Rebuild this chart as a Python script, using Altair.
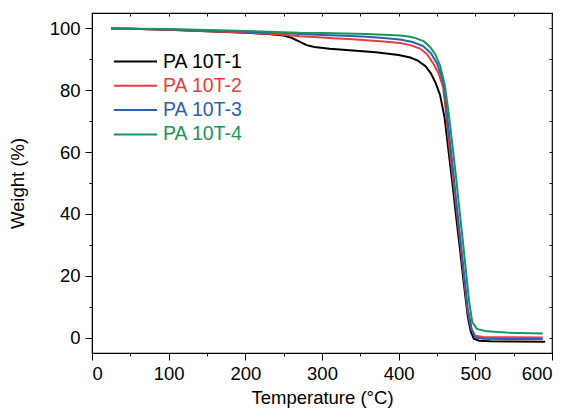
import altair as alt
import pandas as pd

series_names = ["PA 10T-1", "PA 10T-2", "PA 10T-3", "PA 10T-4"]
series_colors = ["#000000", "#ec3a3e", "#2d5fb2", "#17965a"]

t1 = [25, 50, 100, 150, 200, 230, 250, 260, 270, 280, 290, 310, 340, 370, 400, 415, 425, 435, 442, 448, 454, 460, 465, 470, 475, 480, 485, 490, 494, 498, 505, 520, 550, 591]
w1 = [100, 99.9, 99.6, 99.1, 98.6, 98.2, 97.7, 97.0, 95.8, 94.6, 94.0, 93.4, 92.9, 92.3, 91.4, 90.6, 89.6, 87.8, 85.5, 82.5, 78.5, 71.0, 60.5, 50.0, 39.0, 28.5, 17.5, 7.0, 2.0, -0.4, -1.0, -1.2, -1.3, -1.35]

t2 = [25, 50, 100, 150, 200, 250, 271, 300, 315, 340, 358, 380, 402, 415, 428, 437, 445, 452, 458, 462, 466, 470, 475, 480, 485, 490, 495, 500, 510, 540, 588]
w2 = [100, 99.9, 99.6, 99.1, 98.7, 98.0, 97.5, 97.1, 96.8, 96.5, 96.2, 95.8, 95.3, 94.6, 93.5, 91.7, 88.7, 85.5, 81.0, 72.0, 62.0, 53.5, 42.5, 31.5, 20.0, 8.5, 2.5, 0.6, 0.2, 0.1, 0.0]

t3 = [25, 50, 100, 150, 200, 250, 271, 300, 330, 358, 380, 402, 418, 432, 442, 450, 456, 460, 463, 467, 471, 476, 481, 486, 490, 495, 500, 510, 540, 588]
w3 = [100, 99.9, 99.7, 99.3, 99.0, 98.5, 98.2, 97.9, 97.6, 97.3, 96.9, 96.4, 95.6, 94.3, 92.0, 88.7, 84.5, 80.0, 72.5, 63.0, 54.0, 42.0, 30.5, 19.0, 9.5, 3.0, 0.0, -0.4, -0.5, -0.5]

t4 = [25, 50, 100, 150, 200, 250, 271, 300, 330, 358, 380, 402, 415, 423, 433, 441, 448, 454, 460, 465, 470, 475, 479, 484, 488, 492, 496, 502, 515, 540, 588]
w4 = [100, 99.9, 99.8, 99.5, 99.2, 98.8, 98.6, 98.5, 98.4, 98.2, 98.0, 97.7, 97.3, 96.8, 95.8, 94.0, 91.5, 88.0, 82.0, 73.0, 62.5, 51.5, 42.0, 30.5, 21.0, 11.5, 5.0, 2.8, 2.0, 1.6, 1.3]

x_ticks = list(range(0, 601, 50))
y_ticks = list(range(0, 101, 10))

rows = []
for name, ts, ws in zip(series_names, [t1, t2, t3, t4], [w1, w2, w3, w4]):
    for i, (t, w) in enumerate(zip(ts, ws)):
        rows.append({"series": name, "T": t, "W": w, "order": i})
df = pd.DataFrame(rows)

FONT = "Liberation Sans"
TICK_FS = 18.5
TITLE_FS = 18.5

x_scale = alt.Scale(domain=[0, 600], nice=False, zero=False)
y_scale = alt.Scale(domain=[-5, 105], nice=False, zero=False)

label_color_expr = "'black'"
for n, c in reversed(list(zip(series_names, series_colors))):
    label_color_expr = f"datum.value === '{n}' ? '{c}' : ({label_color_expr})"

lines = alt.Chart(df).mark_line(strokeWidth=2).encode(
    x=alt.X(
        "T:Q",
        scale=x_scale,
        axis=alt.Axis(
            title="Temperature (\u00b0C)",
            values=x_ticks,
            labelExpr="datum.value % 100 === 0 ? datum.label : ''",
            tickSize={"condition": {"test": "datum.value % 100 === 0", "value": 7}, "value": 3},
            grid=False,
            labelFontSize=TICK_FS,
            titleFontSize=TITLE_FS,
            labelPadding=4,
            titlePadding=6,
            labelFont=FONT,
            titleFont=FONT,
            titleFontWeight="normal",
            labelColor="black",
            titleColor="black",
            tickColor="black",
            domainColor="black",
        ),
    ),
    y=alt.Y(
        "W:Q",
        scale=y_scale,
        axis=alt.Axis(
            title="Weight (%)",
            values=y_ticks,
            labelExpr="datum.value % 20 === 0 ? datum.label : ''",
            tickSize={"condition": {"test": "datum.value % 20 === 0", "value": 7}, "value": 3},
            grid=False,
            labelFontSize=TICK_FS,
            titleFontSize=TITLE_FS,
            labelPadding=5,
            titlePadding=22,
            labelFont=FONT,
            titleFont=FONT,
            titleFontWeight="normal",
            labelColor="black",
            titleColor="black",
            tickColor="black",
            domainColor="black",
        ),
    ),
    color=alt.Color(
        "series:N",
        scale=alt.Scale(domain=series_names, range=series_colors),
        legend=alt.Legend(
            title=None,
            orient="none",
            legendX=41,
            legendY=36,
            padding=0,
            rowPadding=2.3,
            symbolType="M-2.75,0H1",
            symbolSize=529,
            symbolStrokeWidth=2,
            labelFontSize=19.5,
            labelFont=FONT,
            labelOffset=5,
            labelColor=alt.ExprRef(label_color_expr),
        ),
    ),
    order="order:Q",
)

mirror = alt.Chart(df).mark_point(opacity=0).encode(
    x=alt.X(
        "T:Q",
        scale=x_scale,
        axis=alt.Axis(orient="top", title=None, labels=False, domain=False, grid=False,
                      values=x_ticks, tickSize=3, offset=-3, tickColor="black"),
    ),
    y=alt.Y(
        "W:Q",
        scale=y_scale,
        axis=alt.Axis(orient="right", title=None, labels=False, domain=False, grid=False,
                      values=y_ticks, tickSize=3, offset=-3, tickColor="black"),
    ),
)

chart = (
    alt.layer(lines, mirror)
    .resolve_axis(x="independent", y="independent")
    .properties(
        width=460,
        height=340,
        autosize=alt.AutoSizeParams(type="none"),
        padding={"left": 92, "top": 13, "right": 17, "bottom": 61},
        background="white",
    )
    .configure_view(stroke="black", strokeWidth=1.2)
)

chart.save("out.html", embed_options={"renderer": "svg", "actions": False})
